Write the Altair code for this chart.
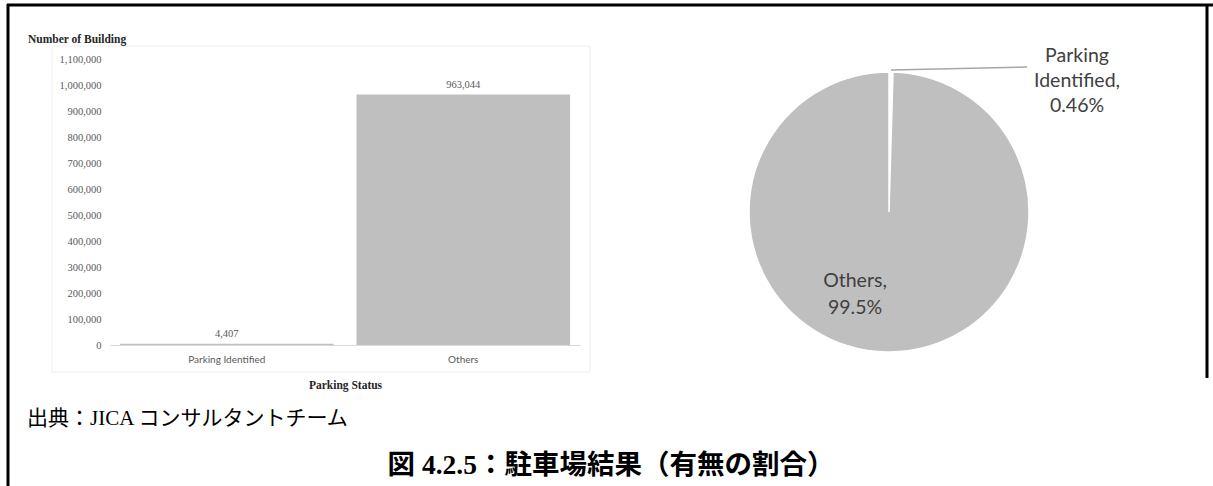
import altair as alt
import pandas as pd

# ---- data ----
categories = ["Parking Identified", "Others"]
building_counts = [4407, 963044]
value_labels = ["4,407", "963,044"]
y_ticks = [0, 100000, 200000, 300000, 400000, 500000, 600000,
           700000, 800000, 900000, 1000000, 1100000]

pie_parts = ["Parking Identified", "Others"]
pie_counts = [4407, 963044]
pie_order = [0, 1]
pie_label_parking = ["Parking", "Identified,", "0.46%"]
pie_label_others = ["Others,", "99.5%"]

y_title = "Number of Building"
x_title = "Parking Status"
source_note = "出典：JICA コンサルタントチーム"
figure_title = "図 4.2.5：駐車場結果（有無の割合）"

SERIF = "Liberation Serif, Times New Roman, Noto Sans CJK JP"
SANS = "Lato, Open Sans, sans-serif"
GREY = "#595959"

bar_df = pd.DataFrame({"cat": categories, "value": building_counts, "lbl": value_labels})
pie_df = pd.DataFrame({"part": pie_parts, "count": pie_counts, "idx": pie_order})
one = pd.DataFrame({"a": [0]})

W, H = 470, 286
OX, OY = 110, 59  # view origin on the page

def px(x):
    return x - OX

def py(y):
    return y - OY

x_enc = alt.X(
    "cat:N", sort=categories,
    scale=alt.Scale(paddingInner=0.097, paddingOuter=0.042),
    axis=alt.Axis(
        title=x_title, labelAngle=0, labelFont=SANS, labelFontSize=10,
        labelColor=GREY, labelPadding=9, domainColor="#d9d9d9", domainWidth=1,
        ticks=False, grid=False, titleFont=SERIF, titleFontSize=11.5,
        titleFontWeight="bold", titleColor="#262626", titlePadding=15,
    ),
)
y_enc = alt.Y(
    "value:Q", scale=alt.Scale(domain=[0, 1100000], nice=False),
    axis=alt.Axis(
        title=None, values=y_ticks, format=",.0f", labelFont=SERIF,
        labelFontSize=10.5, labelColor=GREY, labelPadding=9, domain=False,
        ticks=False, grid=False, labelOverlap=False,
    ),
)

bars = alt.Chart(bar_df).mark_bar(color="#bfbfbf").encode(x=x_enc, y=y_enc)
bar_text = alt.Chart(bar_df).mark_text(
    baseline="bottom", dy=-5, font=SERIF, fontSize=10.5, color=GREY
).encode(x=x_enc, y=y_enc, text="lbl:N")

faint_box = alt.Chart(one).mark_rect(fill=None, stroke="#eeeeee", strokeWidth=1).encode(
    x=alt.value(px(52)), x2=alt.value(px(590)), y=alt.value(py(46)), y2=alt.value(py(372))
)

y_title_txt = alt.Chart(one).mark_text(
    text=y_title, align="left", baseline="middle", font=SERIF, fontSize=11.5,
    fontWeight="bold", color="#262626"
).encode(x=alt.value(px(28)), y=alt.value(py(40)))

pie = alt.Chart(pie_df).mark_arc(stroke="white", strokeWidth=1.5).encode(
    theta=alt.Theta("count:Q", stack=True),
    order=alt.Order("idx:Q"),
    color=alt.Color("part:N", scale=alt.Scale(domain=pie_parts, range=["white", "#bfbfbf"]), legend=None),
    x=alt.value(px(889)), y=alt.value(py(212)), radius=alt.value(140),
)

leader = alt.Chart(one).mark_rule(color="#a6a6a6", strokeWidth=1.5).encode(
    x=alt.value(px(891)), x2=alt.value(px(1027)), y=alt.value(py(70)), y2=alt.value(py(67))
)

lbl_parking = alt.Chart(one).mark_text(
    text=pie_label_parking, align="center", baseline="top", font=SANS,
    fontSize=19.5, lineHeight=25, color="#404040"
).encode(x=alt.value(px(1077)), y=alt.value(py(47)))

lbl_others = alt.Chart(one).mark_text(
    text=pie_label_others, align="center", baseline="top", font=SANS,
    fontSize=19.5, lineHeight=27, color="#404040"
).encode(x=alt.value(px(855)), y=alt.value(py(272)))

note = alt.Chart(one).mark_text(
    text=source_note, align="left", baseline="middle", font=SERIF,
    fontSize=21, color="#000000"
).encode(x=alt.value(px(27)), y=alt.value(py(419)))

title = alt.Chart(one).mark_text(
    text=figure_title, align="center", baseline="middle", font=SERIF,
    fontSize=27.5, fontWeight="bold", color="#000000"
).encode(x=alt.value(px(611)), y=alt.value(py(466)))

border_left = alt.Chart(one).mark_rule(color="black", strokeWidth=3).encode(
    x=alt.value(px(8)), y=alt.value(py(4)), y2=alt.value(py(486))
)
border_top = alt.Chart(one).mark_rule(color="black", strokeWidth=3).encode(
    x=alt.value(px(7)), x2=alt.value(px(1213)), y=alt.value(py(5))
)
border_right = alt.Chart(one).mark_rule(color="black", strokeWidth=3).encode(
    x=alt.value(px(1207)), y=alt.value(py(4)), y2=alt.value(py(378))
)

chart = alt.layer(
    faint_box, bars, bar_text, y_title_txt, pie, leader, lbl_parking, lbl_others,
    note, title, border_left, border_top, border_right,
).properties(
    width=W, height=H,
    autosize=alt.AutoSizeParams(type="none"),
    padding={"left": OX, "top": OY, "right": 1213 - OX - W, "bottom": 486 - OY - H},
    background="white",
).configure_view(stroke=None)

chart.save("out.html", embed_options={"renderer": "svg", "actions": False})
